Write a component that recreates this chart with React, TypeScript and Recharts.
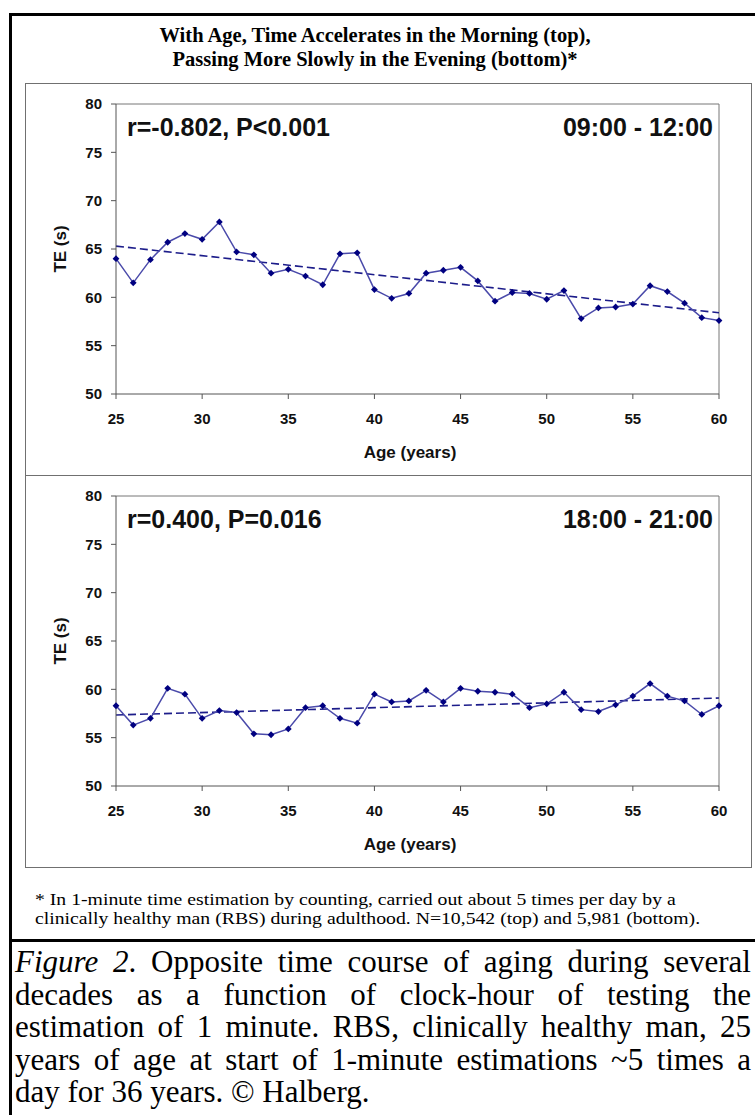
import React from "react";
import { LineChart, Line, XAxis, YAxis, ReferenceLine } from "recharts";

// ages 25..60, one mean TE value per year of age
const ages = [
  25, 26, 27, 28, 29, 30, 31, 32, 33, 34, 35, 36, 37, 38, 39, 40, 41, 42,
  43, 44, 45, 46, 47, 48, 49, 50, 51, 52, 53, 54, 55, 56, 57, 58, 59, 60,
];

// 09:00 - 12:00
const morningTE = [
  64.0, 61.5, 63.9, 65.7, 66.6, 66.0, 67.8, 64.7, 64.4, 62.5, 62.9, 62.2,
  61.3, 64.5, 64.6, 60.8, 59.9, 60.4, 62.5, 62.8, 63.1, 61.7, 59.6, 60.5,
  60.4, 59.8, 60.7, 57.8, 58.9, 59.0, 59.3, 61.2, 60.6, 59.4, 57.9, 57.6,
];

// 18:00 - 21:00
const eveningTE = [
  58.3, 56.3, 57.0, 60.1, 59.5, 57.0, 57.8, 57.6, 55.4, 55.3, 55.9, 58.1,
  58.3, 57.0, 56.5, 59.5, 58.7, 58.8, 59.9, 58.7, 60.1, 59.8, 59.7, 59.5,
  58.1, 58.5, 59.7, 57.9, 57.7, 58.4, 59.3, 60.6, 59.3, 58.8, 57.4, 58.3,
];

// trend line values at age 25 and age 60
const morningTrend = [65.3, 58.4];
const eveningTrend = [57.35, 59.1];

const xTicks = [25, 30, 35, 40, 45, 50, 55, 60];
const yTicks = [50, 55, 60, 65, 70, 75, 80];

const SANS = "'Liberation Sans', Arial, sans-serif";
const SERIF = "'Liberation Serif', 'Times New Roman', serif";

const Diamond = (props: any) => {
  const { cx, cy } = props;
  if (cx == null || cy == null) return null;
  const r = 3.4;
  return (
    <polygon
      points={`${cx},${cy - r} ${cx + r},${cy} ${cx},${cy + r} ${cx - r},${cy}`}
      fill="#000080"
    />
  );
};

function Panel({
  values,
  trend,
  stat,
  hours,
  top,
}: {
  values: number[];
  trend: number[];
  stat: string;
  hours: string;
  top: number;
}) {
  const data = ages.map((a, i) => ({ age: a, te: values[i] }));
  const tick = { fontSize: 15, fontWeight: 700, fill: "#111", fontFamily: SANS };
  const note: React.CSSProperties = {
    position: "absolute",
    top: top + 31,
    fontFamily: SANS,
    fontWeight: 700,
    fontSize: 25,
    lineHeight: "26px",
    color: "#111",
    whiteSpace: "nowrap",
  };
  return (
    <>
      <div style={{ position: "absolute", left: 0, top }}>
        <LineChart
          width={755}
          height={391}
          data={data}
          margin={{ top: 21, right: 36, bottom: 50, left: 56 }}
        >
          <XAxis
            dataKey="age"
            type="number"
            domain={[25, 60]}
            ticks={xTicks}
            height={30}
            tickSize={5}
            tickMargin={14}
            tick={tick}
            stroke="#555"
          />
          <YAxis
            type="number"
            domain={[50, 80]}
            ticks={yTicks}
            width={60}
            tickSize={5}
            tickMargin={9}
            tick={tick}
            stroke="#555"
          />
          <ReferenceLine y={80} stroke="#777" />
          <ReferenceLine x={60} stroke="#777" />
          <ReferenceLine
            segment={[
              { x: 25, y: trend[0] },
              { x: 60, y: trend[1] },
            ]}
            stroke="#1c1c8a"
            strokeWidth={1.6}
            strokeDasharray="8 4"
          />
          <Line
            dataKey="te"
            type="linear"
            stroke="#4a4aaa"
            strokeWidth={1.5}
            dot={<Diamond />}
            isAnimationActive={false}
          />
        </LineChart>
      </div>
      <div style={{ ...note, left: 127 }}>{stat}</div>
      <div style={{ ...note, right: 42 }}>{hours}</div>
      <div
        style={{
          position: "absolute",
          left: 61,
          top: top + 166,
          transform: "translate(-50%, -50%) rotate(-90deg)",
          fontFamily: SANS,
          fontWeight: 700,
          fontSize: 17,
          whiteSpace: "nowrap",
          color: "#111",
        }}
      >
        TE (s)
      </div>
      <div
        style={{
          position: "absolute",
          left: 410,
          top: top + 370,
          transform: "translate(-50%, -50%)",
          fontFamily: SANS,
          fontWeight: 700,
          fontSize: 17,
          whiteSpace: "nowrap",
          color: "#111",
        }}
      >
        Age (years)
      </div>
    </>
  );
}

const captionLines = [
  "decades as a function of clock-hour of testing the",
  "estimation of 1 minute. RBS, clinically healthy man, 25",
  "years of age at start of 1-minute estimations ~5 times a",
];

export default function App() {
  const line = (y: number, x: number, w: number, h: number, c: string) => (
    <div style={{ position: "absolute", left: x, top: y, width: w, height: h, background: c }} />
  );
  const justify: React.CSSProperties = {
    textAlign: "justify",
    textAlignLast: "justify",
    whiteSpace: "nowrap",
  };
  return (
    <div
      style={{
        position: "absolute",
        left: 0,
        top: 0,
        width: 755,
        height: 1115,
        background: "#fff",
        overflow: "hidden",
      }}
    >
      {/* outer frame */}
      {line(13, 9, 746, 3, "#000")}
      {line(13, 9, 3, 1102, "#000")}
      {line(939, 9, 746, 3, "#000")}

      {/* title */}
      <div
        style={{
          position: "absolute",
          left: 0,
          width: 750,
          top: 23,
          textAlign: "center",
          fontFamily: SERIF,
          fontWeight: 700,
          fontSize: 20.5,
          lineHeight: "24px",
          color: "#000",
        }}
      >
        <div>With Age, Time Accelerates in the Morning (top),</div>
        <div>Passing More Slowly in the Evening (bottom)*</div>
      </div>

      {/* inner chart box */}
      <div
        style={{
          position: "absolute",
          left: 25,
          top: 83,
          width: 725,
          height: 783,
          border: "1px solid #707070",
        }}
      />
      {line(475, 25, 726, 1, "#707070")}

      <Panel values={morningTE} trend={morningTrend} stat="r=-0.802, P<0.001" hours="09:00 - 12:00" top={83} />
      <Panel values={eveningTE} trend={eveningTrend} stat="r=0.400, P=0.016" hours="18:00 - 21:00" top={475} />

      {/* footnote */}
      <div
        style={{
          position: "absolute",
          left: 35,
          top: 890,
          fontFamily: SERIF,
          fontSize: 17,
          lineHeight: "19px",
          color: "#000",
          whiteSpace: "nowrap",
          transform: "scaleX(1.16)",
          transformOrigin: "left top",
        }}
      >
        <div>* In 1-minute time estimation by counting, carried out about 5 times per day by a</div>
        <div>clinically healthy man (RBS) during adulthood. N=10,542 (top) and 5,981 (bottom).</div>
      </div>

      {/* caption */}
      <div
        style={{
          position: "absolute",
          left: 15,
          top: 946,
          width: 736,
          fontFamily: SERIF,
          fontSize: 31,
          lineHeight: "32.5px",
          color: "#000",
        }}
      >
        <div style={justify}>
          <i>Figure 2</i>. Opposite time course of aging during several
        </div>
        {captionLines.map((t) => (
          <div key={t} style={justify}>
            {t}
          </div>
        ))}
        <div style={{ whiteSpace: "nowrap" }}>day for 36 years. © Halberg.</div>
      </div>
    </div>
  );
}
